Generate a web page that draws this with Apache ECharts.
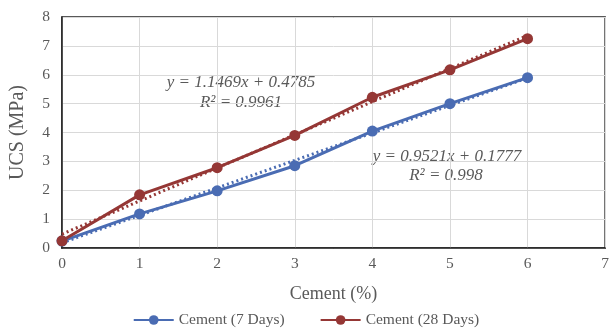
<!DOCTYPE html>
<html>
<head>
<meta charset="utf-8">
<script src="https://cdn.jsdelivr.net/npm/echarts@6/dist/echarts.min.js"></script>
<style>
  html, body { margin: 0; padding: 0; background: #fff; }
  #chart { width: 612px; height: 329px; }
</style>
</head>
<body>
<div id="chart"></div>
<script>
const cement = [0, 1, 2, 3, 4, 5, 6];
const ucs7 = [0.24, 1.18, 1.98, 2.85, 4.05, 5.0, 5.9];
const ucs28 = [0.25, 1.84, 2.78, 3.9, 5.22, 6.17, 7.25];
// trendline end points
const trendX = [0, 6];
const trend7 = [0.18, 5.89];
const trend28 = [0.48, 7.36];
const eq7 = ['y = 0.9521x + 0.1777', 'R² = 0.998'];
const eq28 = ['y = 1.1469x + 0.4785', 'R² = 0.9961'];

const blue = '#4a6cb3';
const red = '#953735';
const font = '"Liberation Serif", "Times New Roman", serif';

const pairs = (xs, ys) => xs.map((x, i) => [x, ys[i]]);

function label(text, x, y) {
    return {
        type: 'text', x, y,
        style: { text, font: 'italic 17px ' + font, fill: '#595959', align: 'center', verticalAlign: 'middle' }
    };
}

const chart = echarts.init(document.getElementById('chart'));
chart.setOption({
    animation: false,
    textStyle: { fontFamily: font },
    grid: { left: 61, right: 3, top: 17, bottom: 81, show: true, borderColor: '#222', borderWidth: 1.5 },
    xAxis: {
        type: 'value', min: 0, max: 7, interval: 1,
        name: 'Cement (%)', nameLocation: 'middle', nameGap: 37,
        nameTextStyle: { fontSize: 18, color: '#595959', fontFamily: font },
        axisLine: { lineStyle: { color: '#222', width: 1.5 } },
        axisTick: { show: false },
        axisLabel: { fontSize: 15.5, color: '#595959', margin: 8, fontFamily: font },
        splitLine: { lineStyle: { color: '#d9d9d9', width: 1 } }
    },
    yAxis: {
        type: 'value', min: 0, max: 8, interval: 1,
        name: 'UCS (MPa)', nameLocation: 'middle', nameGap: 34,
        nameTextStyle: { fontSize: 20, color: '#595959', fontFamily: font },
        axisLine: { lineStyle: { color: '#222', width: 1.5 } },
        axisTick: { show: false },
        axisLabel: { fontSize: 15.5, color: '#595959', margin: 12, fontFamily: font },
        splitLine: { lineStyle: { color: '#d9d9d9', width: 1 } }
    },
    legend: {
        top: 307, left: 'center', itemWidth: 40, itemHeight: 12, itemGap: 35,
        data: ['Cement (7 Days)', 'Cement (28 Days)'],
        textStyle: { fontSize: 15.5, color: '#595959', fontFamily: font }
    },
    series: [
        {
            name: 'Cement (7 Days)', type: 'line', data: pairs(cement, ucs7),
            symbol: 'circle', symbolSize: 11, z: 3,
            lineStyle: { color: blue, width: 3 }, itemStyle: { color: blue }
        },
        {
            name: 'Cement (28 Days)', type: 'line', data: pairs(cement, ucs28),
            symbol: 'circle', symbolSize: 11, z: 3,
            lineStyle: { color: red, width: 3 }, itemStyle: { color: red }
        },
        {
            name: 'trend7', type: 'line', data: pairs(trendX, trend7),
            symbol: 'none', z: 2, silent: true,
            lineStyle: { color: blue, width: 3, type: [2, 3] }
        },
        {
            name: 'trend28', type: 'line', data: pairs(trendX, trend28),
            symbol: 'none', z: 2, silent: true,
            lineStyle: { color: red, width: 3, type: [2, 3] }
        }
    ],
    graphic: [
        label(eq28[0], 241, 83),
        label(eq28[1], 241, 103),
        label(eq7[0], 447, 157),
        label(eq7[1], 446, 176)
    ]
});
</script>
</body>
</html>
